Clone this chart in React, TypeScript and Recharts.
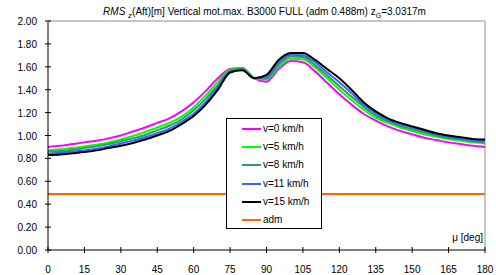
import React from "react";
import { LineChart, Line, XAxis, YAxis, ReferenceLine } from "recharts";

const degrees = [0, 5, 10, 15, 20, 25, 30, 35, 40, 45, 50, 55, 60, 65, 70, 75, 80, 85, 90, 95, 100, 105, 110, 115, 120, 125, 130, 135, 140, 145, 150, 155, 160, 165, 170, 175, 180];

const v0 = [0.90, 0.91, 0.925, 0.94, 0.955, 0.975, 1.0, 1.035, 1.07, 1.11, 1.15, 1.21, 1.29, 1.39, 1.5, 1.58, 1.59, 1.5, 1.47, 1.58, 1.65, 1.64, 1.56, 1.46, 1.36, 1.27, 1.19, 1.13, 1.08, 1.04, 1.01, 0.98, 0.96, 0.94, 0.925, 0.91, 0.9];
const v5 = [0.87, 0.88, 0.89, 0.905, 0.92, 0.94, 0.965, 0.995, 1.03, 1.07, 1.11, 1.165, 1.245, 1.35, 1.47, 1.575, 1.585, 1.5, 1.49, 1.6, 1.67, 1.665, 1.595, 1.5, 1.4, 1.31, 1.225, 1.155, 1.11, 1.07, 1.04, 1.01, 0.99, 0.97, 0.955, 0.94, 0.93];
const v8 = [0.86, 0.865, 0.875, 0.89, 0.905, 0.925, 0.95, 0.975, 1.005, 1.045, 1.085, 1.14, 1.22, 1.32, 1.44, 1.565, 1.58, 1.5, 1.5, 1.62, 1.69, 1.685, 1.615, 1.525, 1.43, 1.34, 1.25, 1.175, 1.125, 1.085, 1.055, 1.025, 1.0, 0.98, 0.965, 0.95, 0.94];
const v11 = [0.84, 0.85, 0.86, 0.87, 0.885, 0.905, 0.93, 0.955, 0.985, 1.02, 1.06, 1.12, 1.19, 1.29, 1.42, 1.555, 1.575, 1.5, 1.515, 1.64, 1.705, 1.7, 1.64, 1.55, 1.465, 1.37, 1.27, 1.195, 1.14, 1.1, 1.07, 1.04, 1.01, 0.99, 0.975, 0.96, 0.955];
const v15 = [0.83, 0.835, 0.845, 0.855, 0.87, 0.89, 0.91, 0.935, 0.965, 1.0, 1.04, 1.1, 1.17, 1.27, 1.4, 1.55, 1.57, 1.5, 1.53, 1.66, 1.72, 1.72, 1.66, 1.58, 1.5, 1.4, 1.29, 1.21, 1.15, 1.11, 1.08, 1.05, 1.02, 1.0, 0.985, 0.97, 0.965];
const adm = 0.488;

const xTicks = [0, 15, 30, 45, 60, 75, 90, 105, 120, 135, 150, 165, 180];
const yTicks = [0, 0.2, 0.4, 0.6, 0.8, 1.0, 1.2, 1.4, 1.6, 1.8, 2.0];

const series = [
  { key: "v0", name: "v=0 km/h", color: "#FF00FF" },
  { key: "v5", name: "v=5 km/h", color: "#00FF00" },
  { key: "v8", name: "v=8 km/h", color: "#339966" },
  { key: "v11", name: "v=11 km/h", color: "#3366FF" },
  { key: "v15", name: "v=15 km/h", color: "#000000" },
  { key: "adm", name: "adm", color: "#FF6600" },
];

const data = degrees.map((d, i) => ({
  deg: d,
  v0: v0[i],
  v5: v5[i],
  v8: v8[i],
  v11: v11[i],
  v15: v15[i],
  adm: adm,
}));

const FONT = "'Liberation Sans', Arial, sans-serif";

// @ts-ignore
const XTick = ({ x, y, payload }) => (
  <g>
    <line x1={x} x2={x} y1={y - 3} y2={y + 3} stroke="#000" />
    <text x={x} y={y + 23} textAnchor="middle" fontSize={10} fontFamily={FONT} fill="#000">
      {payload.value}
    </text>
  </g>
);

// @ts-ignore
const YTick = ({ x, y, payload }) => (
  <g>
    <line x1={x - 3} x2={x + 3} y1={y} y2={y} stroke="#000" />
    <text x={x - 11} y={y + 4} textAnchor="end" fontSize={10} fontFamily={FONT} fill="#000">
      {payload.value.toFixed(2)}
    </text>
  </g>
);

const LegendBox = () => (
  <div
    style={{
      position: "absolute",
      left: 226,
      top: 118,
      width: 96,
      height: 111,
      border: "1px solid #000",
      background: "#fff",
      boxSizing: "border-box",
      fontFamily: FONT,
      fontSize: 10,
      lineHeight: "12px",
      paddingTop: 1,
    }}
  >
    {series.map((s) => (
      <div key={s.key} style={{ height: 18.2, display: "flex", alignItems: "center" }}>
        <div style={{ width: 19, height: 2, background: s.color, marginLeft: 15, marginRight: 2 }} />
        <span>{s.name}</span>
      </div>
    ))}
  </div>
);

export default function App() {
  return (
    <div style={{ position: "absolute", left: 0, top: 0, width: 496, height: 275, background: "#fff" }}>
      <LineChart width={496} height={275} data={data} margin={{ top: 21, right: 11, left: 0, bottom: 0 }}>
        <XAxis
          dataKey="deg"
          type="number"
          domain={[0, 180]}
          ticks={xTicks}
          height={25}
          tickSize={0}
          tickMargin={0}
          tickLine={false}
          axisLine={{ stroke: "#000" }}
          // @ts-ignore
          tick={<XTick />}
          interval={0}
          label={
            // @ts-ignore
            ({ viewBox }) => (
              <text x={viewBox.x + viewBox.width - 2} y={viewBox.y - 9} textAnchor="end" fontSize={10} fontFamily={FONT} fill="#000">
                μ [deg]
              </text>
            )
          }
        />
        <YAxis
          type="number"
          domain={[0, 2]}
          ticks={yTicks}
          width={48}
          tickSize={0}
          tickMargin={0}
          tickLine={false}
          axisLine={{ stroke: "#000" }}
          // @ts-ignore
          tick={<YTick />}
          interval={0}
        />
        <ReferenceLine y={2} stroke="#b4b4b4" strokeWidth={1.5} />
        <ReferenceLine x={180} stroke="#b4b4b4" strokeWidth={1.5} />
        {series.map((s) => (
          <Line
            key={s.key}
            dataKey={s.key}
            name={s.name}
            type="monotone"
            stroke={s.color}
            strokeWidth={2}
            dot={false}
            activeDot={false}
            isAnimationActive={false}
          />
        ))}
      </LineChart>
      <div
        style={{
          position: "absolute",
          left: 0,
          top: 6,
          width: 529,
          textAlign: "center",
          fontFamily: FONT,
          fontSize: 10,
          lineHeight: "12px",
        }}
      >
        <i>RMS</i> <sub style={{ fontSize: 8 }}><i>z</i></sub>(Aft)[m] Vertical mot.max. B3000 FULL (adm 0.488m) z
        <sub style={{ fontSize: 7 }}>G</sub>=3.0317m
      </div>
      <LegendBox />
    </div>
  );
}
